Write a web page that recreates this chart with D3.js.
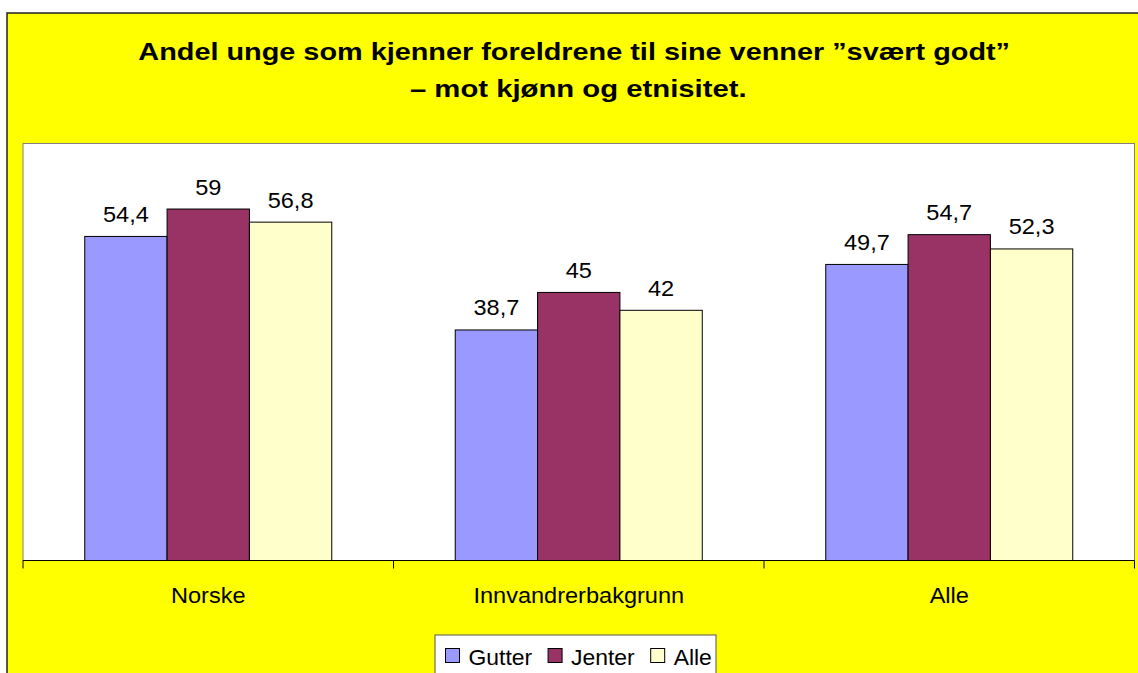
<!DOCTYPE html>
<html>
<head>
<meta charset="utf-8">
<script src="https://cdn.jsdelivr.net/npm/d3@7"></script>
<style>
  html, body { margin: 0; padding: 0; background: #ffffff; }
  svg { display: block; }
  text { font-family: "Liberation Sans", Arial, sans-serif; fill: #000; }
</style>
</head>
<body>
<svg id="chart" width="1138" height="673"></svg>
<script>
// ---- data ----
const titleLines = ["Andel unge som kjenner foreldrene til sine venner \u201Dsvært godt\u201D", "\u2013 mot kjønn og etnisitet."];
const categories = ["Norske", "Innvandrerbakgrunn", "Alle"];
const seriesNames = ["Gutter", "Jenter", "Alle"];
const gutter = [54.4, 38.7, 49.7];
const jenter = [59, 45, 54.7];
const alle = [56.8, 42, 52.3];
const yMax = 70;

// ---- layout ----
const colors = ["#9999FF", "#993366", "#FFFFCC"];
const seriesValues = [gutter, jenter, alle];
const fmt = v => String(v).replace(".", ",");
const plot = { left: 23, top: 143.5, right: 1134.5, bottom: 560.5 };
const svg = d3.select("#chart");
const W = 1138, H = 673;

// outer chart frame
svg.append("rect").attr("x", 7).attr("y", 13).attr("width", W + 20).attr("height", H + 20)
  .attr("fill", "#FFFF00").attr("stroke", "#222").attr("stroke-width", 1.5);

// title
const titleBaselines = [60, 96.7];
const titleWidths = [871.7, 336.7];
const titleCx = [574.2, 578.3];
titleLines.forEach((t, i) => {
  svg.append("text").attr("x", titleCx[i]).attr("y", titleBaselines[i])
    .attr("text-anchor", "middle").attr("font-size", 24.5).attr("font-weight", "bold")
    .attr("textLength", titleWidths[i]).attr("lengthAdjust", "spacingAndGlyphs")
    .text(t);
});

// plot area
svg.append("rect").attr("x", plot.left).attr("y", plot.top)
  .attr("width", plot.right - plot.left).attr("height", plot.bottom - plot.top)
  .attr("fill", "#ffffff").attr("stroke", "#808080").attr("stroke-width", 1);

const x0 = d3.scaleBand().domain(categories).range([plot.left, plot.right]).padding(0);
const x1 = d3.scaleBand().domain(seriesNames).range([0, x0.bandwidth()]).paddingInner(0).paddingOuter(0.75);
const y = d3.scaleLinear().domain([0, yMax]).range([plot.bottom, plot.top]);

function stretch(sel, k) {
  sel.each(function () {
    const len = this.getComputedTextLength();
    d3.select(this).attr("textLength", len * k).attr("lengthAdjust", "spacingAndGlyphs");
  });
}

// bars + value labels
seriesNames.forEach((s, si) => {
  const g = svg.append("g");
  g.selectAll("rect").data(categories).join("rect")
    .attr("x", c => x0(c) + x1(s))
    .attr("y", (c, ci) => y(seriesValues[si][ci]))
    .attr("width", x1.bandwidth())
    .attr("height", (c, ci) => plot.bottom - y(seriesValues[si][ci]))
    .attr("fill", colors[si]).attr("stroke", "#000").attr("stroke-width", 1);
  g.selectAll("text").data(categories).join("text")
    .attr("x", c => x0(c) + x1(s) + x1.bandwidth() / 2)
    .attr("y", (c, ci) => y(seriesValues[si][ci]) - 14.5)
    .attr("text-anchor", "middle").attr("font-size", 22)
    .text((c, ci) => fmt(seriesValues[si][ci]))
    .call(stretch, 1.07);
});

// x axis
const axis = d3.axisBottom(x0).tickSize(0).tickPadding(0);
const ax = svg.append("g").attr("transform", `translate(0,${plot.bottom})`).call(axis);
ax.select(".domain").remove();
ax.selectAll(".tick text").attr("y", 42.8).attr("dy", 0).attr("font-size", 22)
  .attr("font-family", "Liberation Sans, Arial, sans-serif").attr("fill", "#000")
  .call(stretch, 1.07);
svg.append("line").attr("x1", plot.left).attr("x2", plot.right)
  .attr("y1", plot.bottom).attr("y2", plot.bottom).attr("stroke", "#000").attr("stroke-width", 1.2);
const bounds = categories.map(c => x0(c)).concat([x0.range()[1]]);
svg.append("g").selectAll("line").data(bounds).join("line")
  .attr("x1", d => d).attr("x2", d => d)
  .attr("y1", plot.bottom).attr("y2", plot.bottom + 8)
  .attr("stroke", "#000").attr("stroke-width", 1);

// legend
const legend = svg.append("g");
legend.append("rect").attr("x", 435).attr("y", 635).attr("width", 281).attr("height", 60)
  .attr("fill", "#fff").attr("stroke", "#555").attr("stroke-width", 1);
let lx = 445;
seriesNames.forEach((s, i) => {
  legend.append("rect").attr("x", lx + 0.5).attr("y", 648.5).attr("width", 14).attr("height", 14)
    .attr("fill", colors[i]).attr("stroke", "#000").attr("stroke-width", 1);
  const t = legend.append("text").attr("x", lx + 23.5).attr("y", 664.5).attr("font-size", 22).text(s);
  stretch(t, 1.04);
  const w = +t.attr("textLength");
  lx = lx + 23.5 + w + 15.5;
});
</script>
</body>
</html>
